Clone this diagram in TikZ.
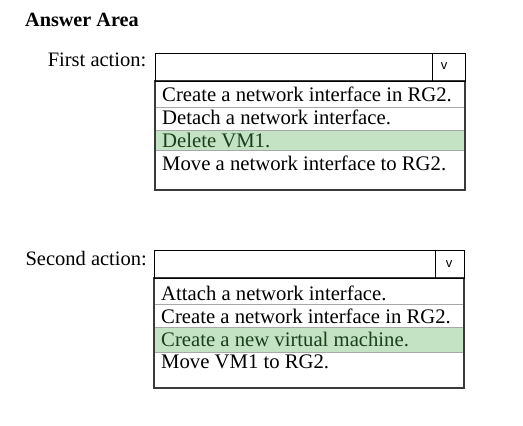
\documentclass[tikz,border=0pt]{standalone}
\usepackage{fontspec}
\setmainfont{Liberation Serif}
\newfontfamily\vfont{Liberation Sans}
\definecolor{selgreen}{HTML}{C4E2C4}
\definecolor{seltext}{HTML}{1A401A}
\definecolor{sepgray}{HTML}{A8A8A8}
\definecolor{listborder}{HTML}{3A3A3A}
\begin{document}
\begin{tikzpicture}[x=1pt,y=-1pt,
  txt/.style={font=\fontsize{20.7}{22}\selectfont, inner sep=0pt, anchor=base west},
  lbl/.style={font=\fontsize{20.5}{22}\selectfont, inner sep=0pt, anchor=base east},
  selbox/.style={draw=black, line width=1pt},
  listbox/.style={draw=listborder, line width=1.4pt},
  sepline/.style={draw=sepgray, line width=0.9pt},
  arrowv/.style={font=\vfont\fontsize{13}{13}\selectfont, inner sep=0pt}]
\useasboundingbox (0,0) rectangle (523,426);
\fill[white] (0,0) rectangle (523,426);
\node[txt, font=\bfseries\fontsize{20.2}{22}\selectfont] (title) at (25,26) {Answer Area};

% First action
\node[lbl] (l1) at (146.5,66) {First action:};
\fill[selgreen] (155,130) rectangle (465,150.7);
\draw[sepline] (155,107) -- (465,107);
\draw[sepline] (155,130) -- (465,130);
\draw[sepline] (155,150.7) -- (465,150.7);
\draw[listbox] (155,81) rectangle (465,190);
\draw[selbox] (155,53) rectangle (465,81);
\draw[selbox] (432,53) -- (432,81);
\node[arrowv] (v1) at (444,66) {v};
\node[txt] (a1) at (162,101.7) {Create a network interface in RG2.};
\node[txt] (a2) at (162,124.2) {Detach a network interface.};
\node[txt, text=seltext] (a3) at (162,147.2) {Delete VM1.};
\node[txt] (a4) at (162,170) {Move a network interface to RG2.};

% Second action
\node[lbl] (l2) at (147,265) {Second action:};
\fill[selgreen] (154,327.3) rectangle (464,352.7);
\draw[sepline] (154,304) -- (464,304);
\draw[sepline] (154,327.3) -- (464,327.3);
\draw[sepline] (154,352.7) -- (464,352.7);
\draw[listbox] (154,278) rectangle (464,388);
\draw[selbox] (154,250.7) rectangle (464,278);
\draw[selbox] (435,250.7) -- (435,278);
\node[arrowv] (v2) at (449,264) {v};
\node[txt] (b1) at (161,300) {Attach a network interface.};
\node[txt] (b2) at (161,323.3) {Create a network interface in RG2.};
\node[txt, text=seltext] (b3) at (161,346) {Create a new virtual machine.};
\node[txt] (b4) at (161,368.3) {Move VM1 to RG2.};
\end{tikzpicture}
\end{document}
